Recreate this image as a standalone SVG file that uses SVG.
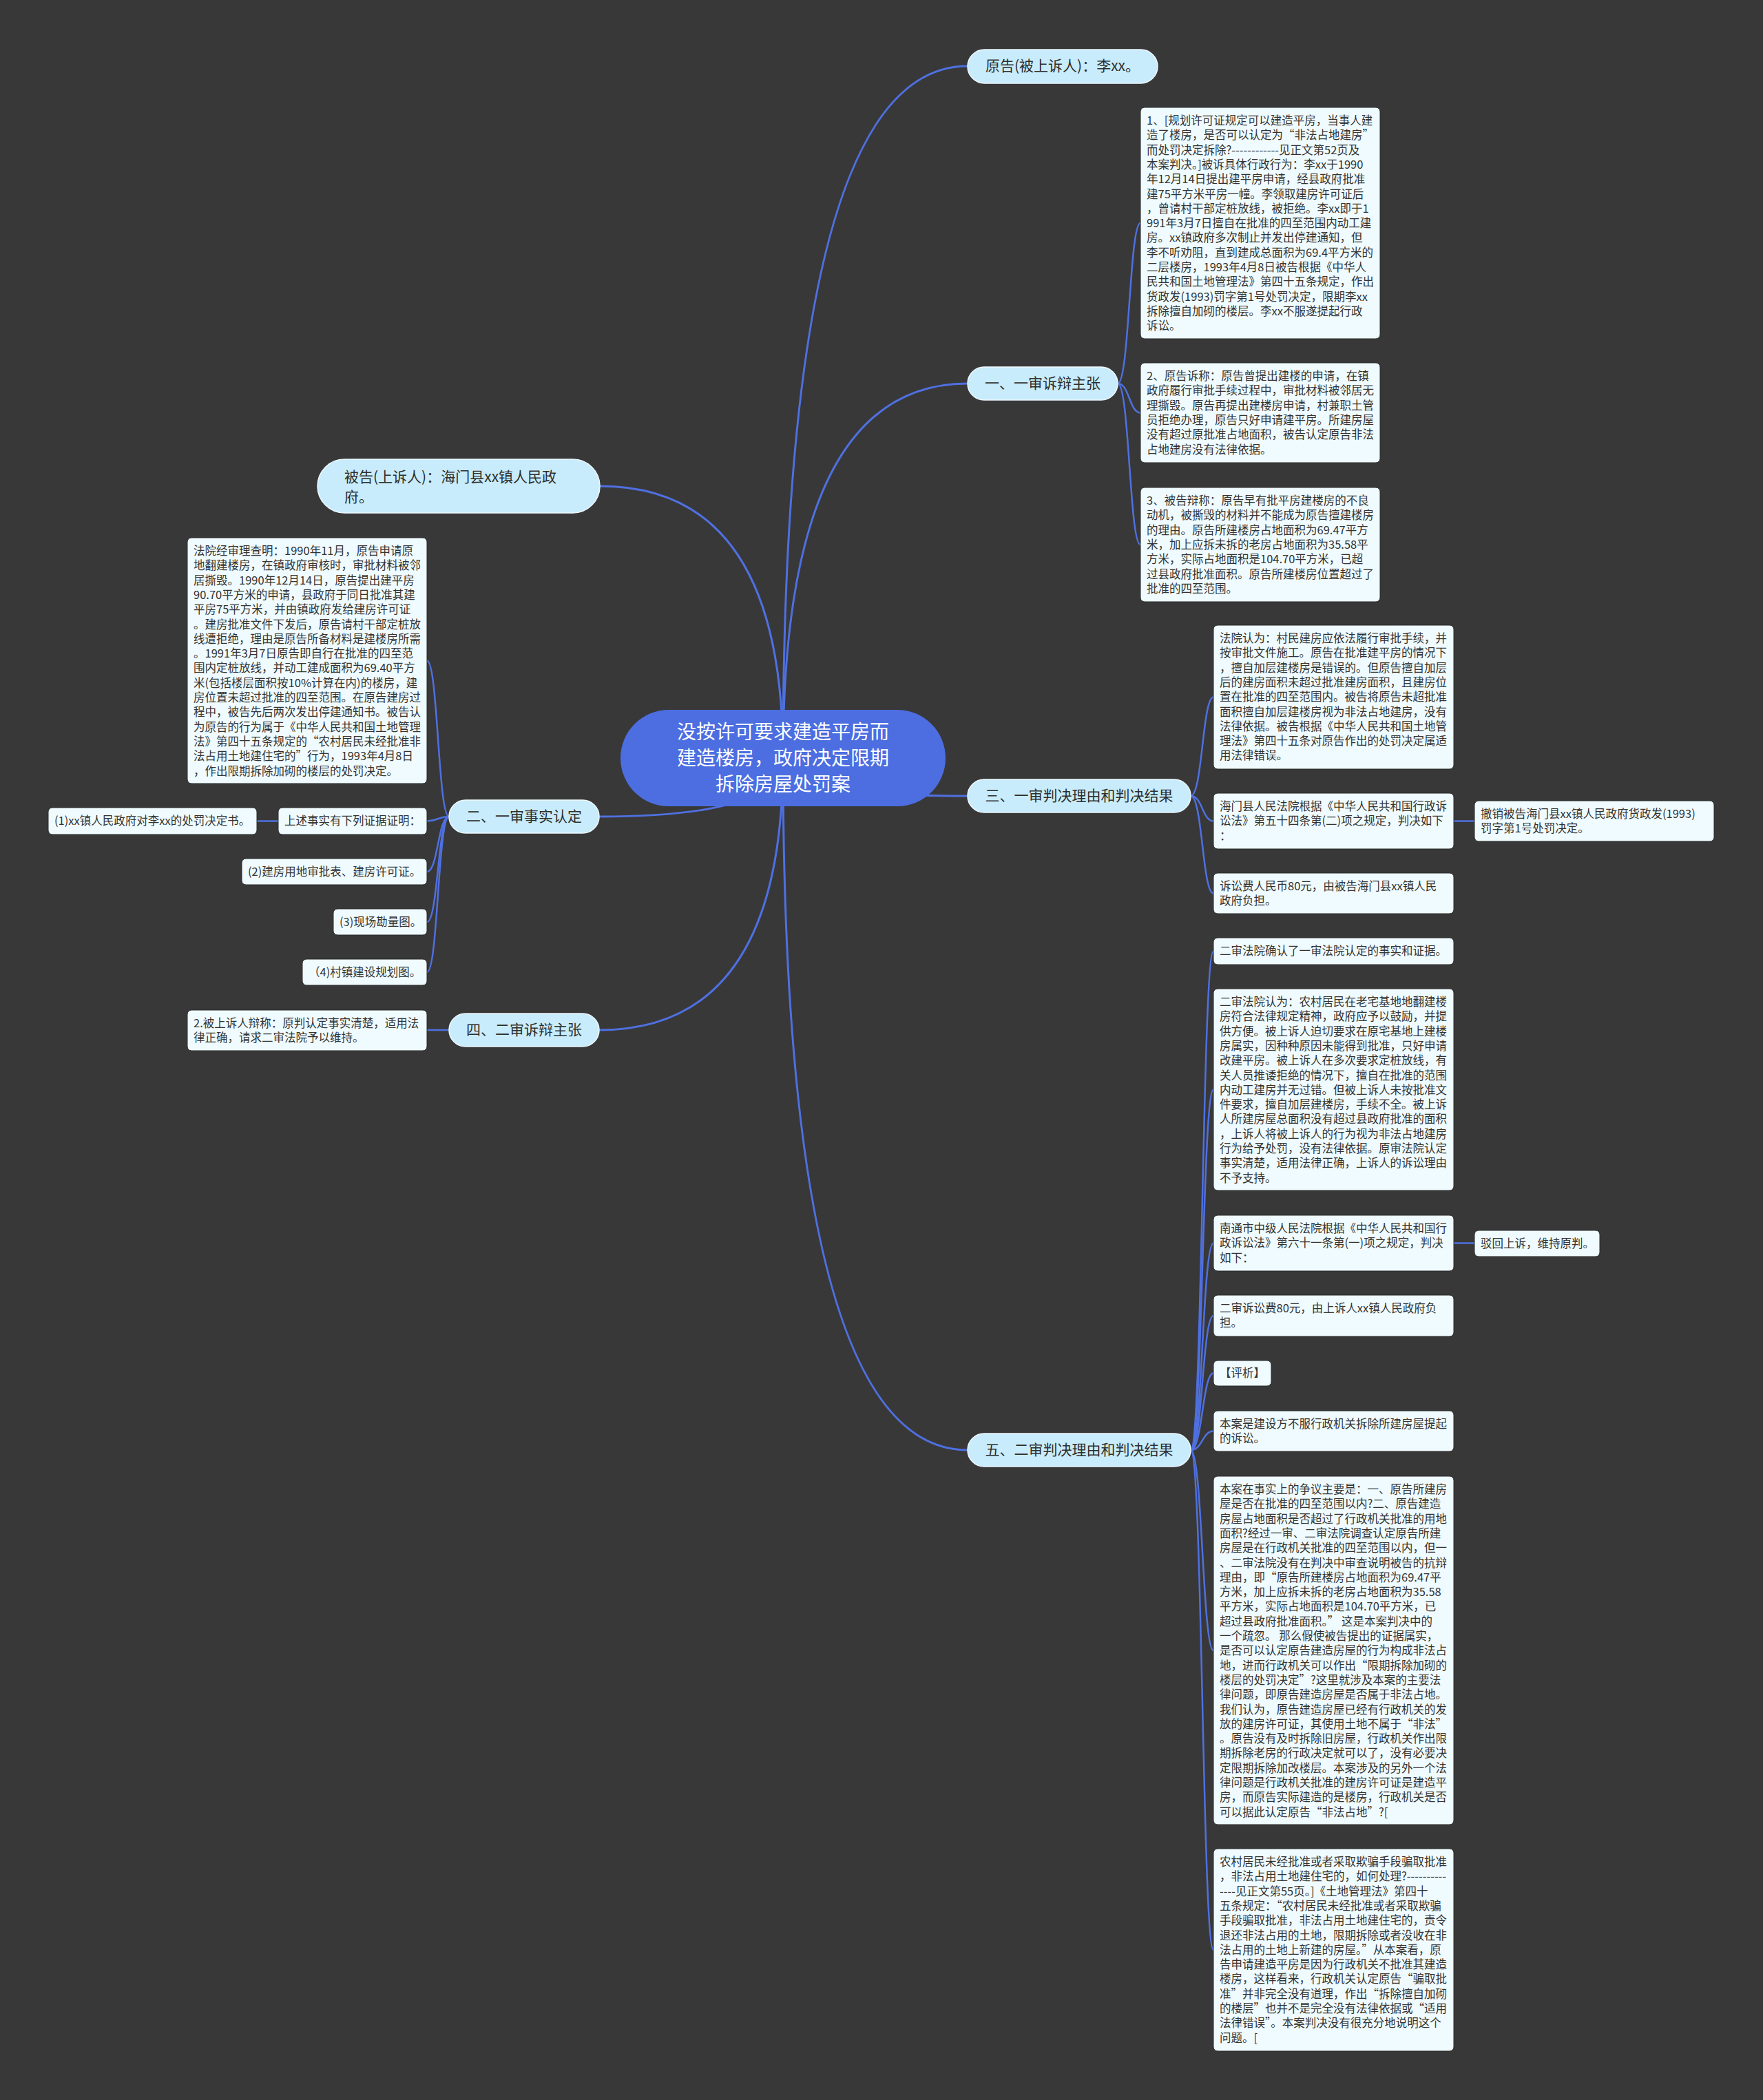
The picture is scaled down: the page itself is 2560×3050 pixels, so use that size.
<svg xmlns="http://www.w3.org/2000/svg" width="2560" height="3050" viewBox="0 0 2560 3050">
<style>
text{font-family:"Noto Sans CJK SC","Noto Sans",sans-serif}
.leaf rect{fill:#effbfe;stroke:#2a2a2a;stroke-width:1}
.leaf text{font-size:16.5px;fill:#333}
.l1 rect{fill:#c8ecfb;stroke:#eef9ff;stroke-width:1.5}
.l1 text{font-size:21px;fill:#2e2e2e}
.root rect{fill:#4c6ee0}
.root text{font-size:28px;fill:#fff;text-anchor:middle}
.conn path{fill:none;stroke:#4f70e0;stroke-width:3}
.conn .c2{stroke-width:2.5}
</style>
<rect x="0" y="0" width="2560" height="3050" fill="#383839"/>
<g class="conn" id="connectors">
<path d="M1137 1101 Q1137 96 1405 96"/>
<path d="M1137 1101 Q1137 557 1405 557"/>
<path d="M1137 1101 Q1137 1156 1405 1156"/>
<path d="M1137 1101 Q1137 2106 1405 2106"/>
<path d="M1137 1101 Q1137 706 871 706"/>
<path d="M1137 1101 Q1137 1186 870 1186"/>
<path d="M1137 1101 Q1137 1496 870 1496"/>
<path class="c2" d="M1623 557 C1640 557 1640 324 1656 324"/>
<path class="c2" d="M1623 557 C1640 557 1640 599.5 1656 599.5"/>
<path class="c2" d="M1623 557 C1640 557 1640 791 1656 791"/>
<path class="c2" d="M1729 1156 C1746 1156 1746 1012.5 1762 1012.5"/>
<path class="c2" d="M1729 1156 C1746 1156 1746 1192.5 1762 1192.5"/>
<path class="c2" d="M1729 1156 C1746 1156 1746 1297.5 1762 1297.5"/>
<path class="c2" d="M2111 1192.5 L2141 1192.5"/>
<path class="c2" d="M1729 2106 C1746 2106 1746 1381.5 1762 1381.5"/>
<path class="c2" d="M1729 2106 C1746 2106 1746 1582.5 1762 1582.5"/>
<path class="c2" d="M1729 2106 C1746 2106 1746 1805.5 1762 1805.5"/>
<path class="c2" d="M1729 2106 C1746 2106 1746 1911 1762 1911"/>
<path class="c2" d="M1729 2106 C1746 2106 1746 1994.5 1762 1994.5"/>
<path class="c2" d="M1729 2106 C1746 2106 1746 2078.5 1762 2078.5"/>
<path class="c2" d="M1729 2106 C1746 2106 1746 2397 1762 2397"/>
<path class="c2" d="M1729 2106 C1746 2106 1746 2832 1762 2832"/>
<path class="c2" d="M2111 1805.5 L2141 1805.5"/>
<path class="c2" d="M652 1186 C636 1186 636 959.5 620 959.5"/>
<path class="c2" d="M652 1186 C636 1186 636 1192.5 620 1192.5"/>
<path class="c2" d="M652 1186 C636 1186 636 1266 620 1266"/>
<path class="c2" d="M652 1186 C636 1186 636 1339 620 1339"/>
<path class="c2" d="M652 1186 C636 1186 636 1412 620 1412"/>
<path class="c2" d="M404 1192.5 L373 1192.5"/>
<path class="c2" d="M652 1496 L620 1496"/>
</g>
<g class="root" id="root">
<rect x="901" y="1031" width="472" height="140" rx="70"/>
<text x="1137" y="1073">没按许可要求建造平房而</text>
<text x="1137" y="1111">建造楼房，政府决定限期</text>
<text x="1137" y="1149">拆除房屋处罚案</text>
</g>
<g class="l1" id="n-plaintiff">
<rect x="1405" y="72" width="276" height="49" rx="24.5"/>
<text x="1543" y="103" text-anchor="middle">原告(被上诉人)：李xx。</text>
</g>
<g class="l1" id="n-first-claims">
<rect x="1405" y="533" width="218" height="48" rx="24"/>
<text x="1514" y="564" text-anchor="middle">一、一审诉辩主张</text>
</g>
<g class="l1" id="n-first-judgment">
<rect x="1405" y="1132" width="324" height="48" rx="24"/>
<text x="1567" y="1163" text-anchor="middle">三、一审判决理由和判决结果</text>
</g>
<g class="l1" id="n-second-judgment">
<rect x="1405" y="2082" width="324" height="48" rx="24"/>
<text x="1567" y="2113" text-anchor="middle">五、二审判决理由和判决结果</text>
</g>
<g class="l1" id="n-defendant">
<rect x="461" y="667" width="410" height="78" rx="39"/>
<text x="500" y="700">被告(上诉人)：海门县xx镇人民政</text>
<text x="500" y="729">府。</text>
</g>
<g class="l1" id="n-first-facts">
<rect x="652" y="1162" width="218" height="48" rx="24"/>
<text x="761" y="1193" text-anchor="middle">二、一审事实认定</text>
</g>
<g class="l1" id="n-second-claims">
<rect x="652" y="1472" width="218" height="48" rx="24"/>
<text x="761" y="1503" text-anchor="middle">四、二审诉辩主张</text>
</g>
<g class="leaf" id="b-1">
<rect x="1656" y="156" width="348" height="336" rx="6"/>
<text x="1665" y="181"><tspan x="1665">1、[规划许可证规定可以建造平房，当事人建</tspan><tspan x="1665" dy="21.3">造了楼房，是否可以认定为“非法占地建房”</tspan><tspan x="1665" dy="21.3">而处罚决定拆除?------------见正文第52页及</tspan><tspan x="1665" dy="21.3">本案判决。]被诉具体行政行为：李xx于1990</tspan><tspan x="1665" dy="21.3">年12月14日提出建平房申请，经县政府批准</tspan><tspan x="1665" dy="21.3">建75平方米平房一幢。李领取建房许可证后</tspan><tspan x="1665" dy="21.3">，曾请村干部定桩放线，被拒绝。李xx即于1</tspan><tspan x="1665" dy="21.3">991年3月7日擅自在批准的四至范围内动工建</tspan><tspan x="1665" dy="21.3">房。xx镇政府多次制止并发出停建通知，但</tspan><tspan x="1665" dy="21.3">李不听劝阻，直到建成总面积为69.4平方米的</tspan><tspan x="1665" dy="21.3">二层楼房，1993年4月8日被告根据《中华人</tspan><tspan x="1665" dy="21.3">民共和国土地管理法》第四十五条规定，作出</tspan><tspan x="1665" dy="21.3">货政发(1993)罚字第1号处罚决定，限期李xx</tspan><tspan x="1665" dy="21.3">拆除擅自加砌的楼层。李xx不服遂提起行政</tspan><tspan x="1665" dy="21.3">诉讼。</tspan></text>
</g>
<g class="leaf" id="b-2">
<rect x="1656" y="527" width="348" height="145" rx="6"/>
<text x="1665" y="552"><tspan x="1665">2、原告诉称：原告曾提出建楼的申请，在镇</tspan><tspan x="1665" dy="21.3">政府履行审批手续过程中，审批材料被邻居无</tspan><tspan x="1665" dy="21.3">理撕毁。原告再提出建楼房申请，村兼职土管</tspan><tspan x="1665" dy="21.3">员拒绝办理，原告只好申请建平房。所建房屋</tspan><tspan x="1665" dy="21.3">没有超过原批准占地面积，被告认定原告非法</tspan><tspan x="1665" dy="21.3">占地建房没有法律依据。</tspan></text>
</g>
<g class="leaf" id="b-3">
<rect x="1656" y="708" width="348" height="166" rx="6"/>
<text x="1665" y="733"><tspan x="1665">3、被告辩称：原告早有批平房建楼房的不良</tspan><tspan x="1665" dy="21.3">动机，被撕毁的材料并不能成为原告擅建楼房</tspan><tspan x="1665" dy="21.3">的理由。原告所建楼房占地面积为69.47平方</tspan><tspan x="1665" dy="21.3">米，加上应拆未拆的老房占地面积为35.58平</tspan><tspan x="1665" dy="21.3">方米，实际占地面积是104.70平方米，已超</tspan><tspan x="1665" dy="21.3">过县政府批准面积。原告所建楼房位置超过了</tspan><tspan x="1665" dy="21.3">批准的四至范围。</tspan></text>
</g>
<g class="leaf" id="b-facts">
<rect x="272" y="781" width="348" height="357" rx="6"/>
<text x="281" y="806"><tspan x="281">法院经审理查明：1990年11月，原告申请原</tspan><tspan x="281" dy="21.3">地翻建楼房，在镇政府审核时，审批材料被邻</tspan><tspan x="281" dy="21.3">居撕毁。1990年12月14日，原告提出建平房</tspan><tspan x="281" dy="21.3">90.70平方米的申请，县政府于同日批准其建</tspan><tspan x="281" dy="21.3">平房75平方米，并由镇政府发给建房许可证</tspan><tspan x="281" dy="21.3">。建房批准文件下发后，原告请村干部定桩放</tspan><tspan x="281" dy="21.3">线遭拒绝，理由是原告所备材料是建楼房所需</tspan><tspan x="281" dy="21.3">。1991年3月7日原告即自行在批准的四至范</tspan><tspan x="281" dy="21.3">围内定桩放线，并动工建成面积为69.40平方</tspan><tspan x="281" dy="21.3">米(包括楼层面积按10%计算在内)的楼房，建</tspan><tspan x="281" dy="21.3">房位置未超过批准的四至范围。在原告建房过</tspan><tspan x="281" dy="21.3">程中，被告先后两次发出停建通知书。被告认</tspan><tspan x="281" dy="21.3">为原告的行为属于《中华人民共和国土地管理</tspan><tspan x="281" dy="21.3">法》第四十五条规定的“农村居民未经批准非</tspan><tspan x="281" dy="21.3">法占用土地建住宅的”行为，1993年4月8日</tspan><tspan x="281" dy="21.3">，作出限期拆除加砌的楼层的处罚决定。</tspan></text>
</g>
<g class="leaf" id="b-evidence">
<rect x="404" y="1173" width="216" height="39" rx="6"/>
<text x="413" y="1198">上述事实有下列证据证明：</text>
</g>
<g class="leaf" id="b-ev1">
<rect x="70" y="1173" width="303" height="39" rx="6"/>
<text x="79" y="1198">(1)xx镇人民政府对李xx的处罚决定书。</text>
</g>
<g class="leaf" id="b-ev2">
<rect x="351" y="1247" width="269" height="38" rx="6"/>
<text x="360" y="1272">(2)建房用地审批表、建房许可证。</text>
</g>
<g class="leaf" id="b-ev3">
<rect x="484" y="1320" width="136" height="38" rx="6"/>
<text x="493" y="1345">(3)现场勘量图。</text>
</g>
<g class="leaf" id="b-ev4">
<rect x="439" y="1393" width="181" height="38" rx="6"/>
<text x="448" y="1418">（4)村镇建设规划图。</text>
</g>
<g class="leaf" id="b-appellee">
<rect x="272" y="1467" width="348" height="59" rx="6"/>
<text x="281" y="1492"><tspan x="281">2.被上诉人辩称：原判认定事实清楚，适用法</tspan><tspan x="281" dy="21.3">律正确，请求二审法院予以维持。</tspan></text>
</g>
<g class="leaf" id="b-a">
<rect x="1762" y="908" width="349" height="209" rx="6"/>
<text x="1771" y="933"><tspan x="1771">法院认为：村民建房应依法履行审批手续，并</tspan><tspan x="1771" dy="21.3">按审批文件施工。原告在批准建平房的情况下</tspan><tspan x="1771" dy="21.3">，擅自加层建楼房是错误的。但原告擅自加层</tspan><tspan x="1771" dy="21.3">后的建房面积未超过批准建房面积，且建房位</tspan><tspan x="1771" dy="21.3">置在批准的四至范围内。被告将原告未超批准</tspan><tspan x="1771" dy="21.3">面积擅自加层建楼房视为非法占地建房，没有</tspan><tspan x="1771" dy="21.3">法律依据。被告根据《中华人民共和国土地管</tspan><tspan x="1771" dy="21.3">理法》第四十五条对原告作出的处罚决定属适</tspan><tspan x="1771" dy="21.3">用法律错误。</tspan></text>
</g>
<g class="leaf" id="b-b">
<rect x="1762" y="1152" width="349" height="81" rx="6"/>
<text x="1771" y="1177"><tspan x="1771">海门县人民法院根据《中华人民共和国行政诉</tspan><tspan x="1771" dy="21.3">讼法》第五十四条第(二)项之规定，判决如下</tspan><tspan x="1771" dy="21.3">：</tspan></text>
</g>
<g class="leaf" id="b-revoke">
<rect x="2141" y="1163" width="348" height="59" rx="6"/>
<text x="2150" y="1188"><tspan x="2150">撤销被告海门县xx镇人民政府货政发(1993)</tspan><tspan x="2150" dy="21.3">罚字第1号处罚决定。</tspan></text>
</g>
<g class="leaf" id="b-c">
<rect x="1762" y="1268" width="349" height="59" rx="6"/>
<text x="1771" y="1293"><tspan x="1771">诉讼费人民币80元，由被告海门县xx镇人民</tspan><tspan x="1771" dy="21.3">政府负担。</tspan></text>
</g>
<g class="leaf" id="b-d">
<rect x="1762" y="1362" width="349" height="39" rx="6"/>
<text x="1771" y="1387">二审法院确认了一审法院认定的事实和证据。</text>
</g>
<g class="leaf" id="b-e">
<rect x="1762" y="1436" width="349" height="293" rx="6"/>
<text x="1771" y="1461"><tspan x="1771">二审法院认为：农村居民在老宅基地地翻建楼</tspan><tspan x="1771" dy="21.3">房符合法律规定精神，政府应予以鼓励，并提</tspan><tspan x="1771" dy="21.3">供方便。被上诉人迫切要求在原宅基地上建楼</tspan><tspan x="1771" dy="21.3">房属实，因种种原因未能得到批准，只好申请</tspan><tspan x="1771" dy="21.3">改建平房。被上诉人在多次要求定桩放线，有</tspan><tspan x="1771" dy="21.3">关人员推诿拒绝的情况下，擅自在批准的范围</tspan><tspan x="1771" dy="21.3">内动工建房并无过错。但被上诉人未按批准文</tspan><tspan x="1771" dy="21.3">件要求，擅自加层建楼房，手续不全。被上诉</tspan><tspan x="1771" dy="21.3">人所建房屋总面积没有超过县政府批准的面积</tspan><tspan x="1771" dy="21.3">，上诉人将被上诉人的行为视为非法占地建房</tspan><tspan x="1771" dy="21.3">行为给予处罚，没有法律依据。原审法院认定</tspan><tspan x="1771" dy="21.3">事实清楚，适用法律正确，上诉人的诉讼理由</tspan><tspan x="1771" dy="21.3">不予支持。</tspan></text>
</g>
<g class="leaf" id="b-f">
<rect x="1762" y="1765" width="349" height="81" rx="6"/>
<text x="1771" y="1790"><tspan x="1771">南通市中级人民法院根据《中华人民共和国行</tspan><tspan x="1771" dy="21.3">政诉讼法》第六十一条第(一)项之规定，判决</tspan><tspan x="1771" dy="21.3">如下：</tspan></text>
</g>
<g class="leaf" id="b-reject">
<rect x="2141" y="1787" width="182" height="38" rx="6"/>
<text x="2150" y="1812">驳回上诉，维持原判。</text>
</g>
<g class="leaf" id="b-g">
<rect x="1762" y="1881" width="349" height="60" rx="6"/>
<text x="1771" y="1906"><tspan x="1771">二审诉讼费80元，由上诉人xx镇人民政府负</tspan><tspan x="1771" dy="21.3">担。</tspan></text>
</g>
<g class="leaf" id="b-h">
<rect x="1762" y="1976" width="84" height="37" rx="6"/>
<text x="1771" y="2000">【评析】</text>
</g>
<g class="leaf" id="b-i">
<rect x="1762" y="2049" width="349" height="59" rx="6"/>
<text x="1771" y="2074"><tspan x="1771">本案是建设方不服行政机关拆除所建房屋提起</tspan><tspan x="1771" dy="21.3">的诉讼。</tspan></text>
</g>
<g class="leaf" id="b-j">
<rect x="1762" y="2144" width="349" height="506" rx="6"/>
<text x="1771" y="2169"><tspan x="1771">本案在事实上的争议主要是：一、原告所建房</tspan><tspan x="1771" dy="21.3">屋是否在批准的四至范围以内?二、原告建造</tspan><tspan x="1771" dy="21.3">房屋占地面积是否超过了行政机关批准的用地</tspan><tspan x="1771" dy="21.3">面积?经过一审、二审法院调查认定原告所建</tspan><tspan x="1771" dy="21.3">房屋是在行政机关批准的四至范围以内，但一</tspan><tspan x="1771" dy="21.3">、二审法院没有在判决中审查说明被告的抗辩</tspan><tspan x="1771" dy="21.3">理由，即“原告所建楼房占地面积为69.47平</tspan><tspan x="1771" dy="21.3">方米，加上应拆未拆的老房占地面积为35.58</tspan><tspan x="1771" dy="21.3">平方米，实际占地面积是104.70平方米，已</tspan><tspan x="1771" dy="21.3">超过县政府批准面积。” 这是本案判决中的</tspan><tspan x="1771" dy="21.3">一个疏忽。 那么假使被告提出的证据属实，</tspan><tspan x="1771" dy="21.3">是否可以认定原告建造房屋的行为构成非法占</tspan><tspan x="1771" dy="21.3">地，进而行政机关可以作出“限期拆除加砌的</tspan><tspan x="1771" dy="21.3">楼层的处罚决定”?这里就涉及本案的主要法</tspan><tspan x="1771" dy="21.3">律问题，即原告建造房屋是否属于非法占地。</tspan><tspan x="1771" dy="21.3">我们认为，原告建造房屋已经有行政机关的发</tspan><tspan x="1771" dy="21.3">放的建房许可证，其使用土地不属于“非法”</tspan><tspan x="1771" dy="21.3">。原告没有及时拆除旧房屋，行政机关作出限</tspan><tspan x="1771" dy="21.3">期拆除老房的行政决定就可以了，没有必要决</tspan><tspan x="1771" dy="21.3">定限期拆除加改楼层。本案涉及的另外一个法</tspan><tspan x="1771" dy="21.3">律问题是行政机关批准的建房许可证是建造平</tspan><tspan x="1771" dy="21.3">房，而原告实际建造的是楼房，行政机关是否</tspan><tspan x="1771" dy="21.3">可以据此认定原告“非法占地”?[</tspan></text>
</g>
<g class="leaf" id="b-k">
<rect x="1762" y="2685" width="349" height="294" rx="6"/>
<text x="1771" y="2710"><tspan x="1771">农村居民未经批准或者采取欺骗手段骗取批准</tspan><tspan x="1771" dy="21.3">，非法占用土地建住宅的，如何处理?----------</tspan><tspan x="1771" dy="21.3">----见正文第55页。]《土地管理法》第四十</tspan><tspan x="1771" dy="21.3">五条规定：“农村居民未经批准或者采取欺骗</tspan><tspan x="1771" dy="21.3">手段骗取批准，非法占用土地建住宅的，责令</tspan><tspan x="1771" dy="21.3">退还非法占用的土地，限期拆除或者没收在非</tspan><tspan x="1771" dy="21.3">法占用的土地上新建的房屋。”从本案看，原</tspan><tspan x="1771" dy="21.3">告申请建造平房是因为行政机关不批准其建造</tspan><tspan x="1771" dy="21.3">楼房，这样看来，行政机关认定原告“骗取批</tspan><tspan x="1771" dy="21.3">准”并非完全没有道理，作出“拆除擅自加砌</tspan><tspan x="1771" dy="21.3">的楼层”也并不是完全没有法律依据或“适用</tspan><tspan x="1771" dy="21.3">法律错误”。本案判决没有很充分地说明这个</tspan><tspan x="1771" dy="21.3">问题。[</tspan></text>
</g>
</svg>
